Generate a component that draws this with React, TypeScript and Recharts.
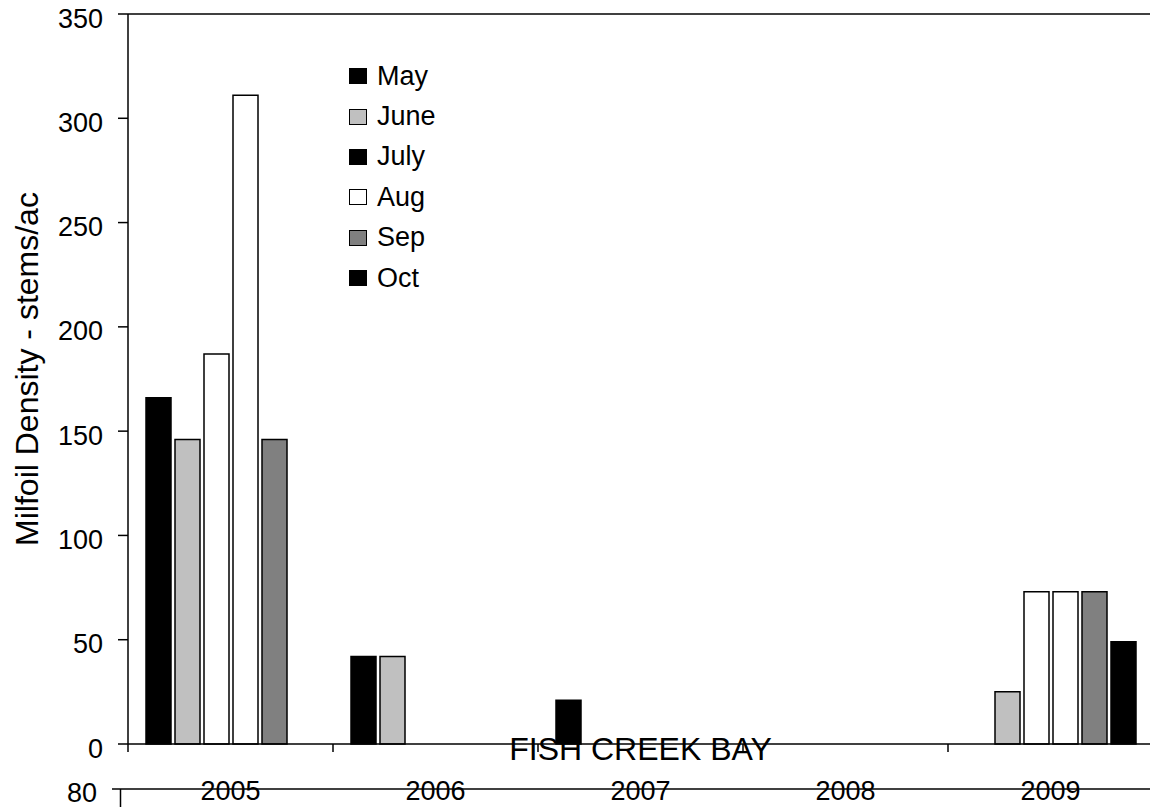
import { Bar, BarChart, Label, Legend, ReferenceLine, XAxis, YAxis } from 'recharts';

const years = ['2005', '2006', '2007', '2008', '2009'];
const may = [166, 42, 21, 0, 0];
const june = [146, 42, 0, 0, 25];
const july = [187, 0, 0, 0, 73];
const aug = [311, 0, 0, 0, 73];
const sep = [146, 0, 0, 0, 73];
const oct = [0, 0, 0, 0, 49];
const yTicks = [0, 50, 100, 150, 200, 250, 300, 350];

const FONT = "'Liberation Sans', Arial, sans-serif";

// fill = how the bar is drawn, swatch = how the legend shows it
const series = [
  { key: 'May', fill: '#000000', swatch: '#000000' },
  { key: 'June', fill: '#c0c0c0', swatch: '#c0c0c0' },
  { key: 'July', fill: '#ffffff', swatch: '#000000' },
  { key: 'Aug', fill: '#ffffff', swatch: '#ffffff' },
  { key: 'Sep', fill: '#808080', swatch: '#808080' },
  { key: 'Oct', fill: '#000000', swatch: '#000000' },
];

const data = years.map((year, i) => ({
  year,
  May: may[i],
  June: june[i],
  July: july[i],
  Aug: aug[i],
  Sep: sep[i],
  Oct: oct[i],
}));

const YTick = (props: any) => {
  const { x, y, payload } = props;
  return (
    <text x={x} y={y} dy={13.5} textAnchor="end" fontSize={27} fontFamily={FONT} fill="#000">
      {payload.value}
    </text>
  );
};

const XTick = (props: any) => {
  const { x, y, payload, index } = props;
  const half = payload.offset || 102.5;
  return (
    <g>
      <line x1={x - half} x2={x - half} y1={y} y2={y + 8} stroke="#000" strokeWidth={1.5} />
      {index === years.length - 1 && (
        <line x1={x + half} x2={x + half} y1={y} y2={y + 8} stroke="#000" strokeWidth={1.5} />
      )}
      <text x={x} y={y + 56} textAnchor="middle" fontSize={27} fontFamily={FONT} fill="#000">
        {payload.value}
      </text>
    </g>
  );
};

const LegendBox = () => (
  <div style={{ fontFamily: FONT, fontSize: 27, color: '#000' }}>
    {series.map((s) => (
      <div key={s.key} style={{ display: 'flex', alignItems: 'center', height: 40.4 }}>
        <span
          style={{
            width: 18,
            height: 16,
            boxSizing: 'border-box',
            background: s.swatch,
            border: '1.5px solid #000',
            marginRight: 10,
          }}
        />
        <span style={{ lineHeight: 1 }}>{s.key}</span>
      </div>
    ))}
  </div>
);

export default function App() {
  return (
    <div style={{ position: 'fixed', left: 0, top: 0, width: 1150, height: 807, overflow: 'hidden', background: '#fff' }}>
      <BarChart
        width={1153}
        height={807}
        data={data}
        margin={{ top: 14, right: 0, left: 8, bottom: 3 }}
        barSize={25}
        barGap={4}
      >
        <XAxis
          dataKey="year"
          height={60}
          tickSize={0}
          tickMargin={0}
          tickLine={false}
          axisLine={{ stroke: '#000', strokeWidth: 1.5 }}
          tick={<XTick />}
          interval={0}
        >
          <Label
            content={(p: any) => {
              const vb = p.viewBox || { x: 128, y: 744, width: 1025 };
              return (
                <text
                  x={vb.x + vb.width / 2}
                  y={vb.y + 16}
                  textAnchor="middle"
                  fontSize={32}
                  fontFamily={FONT}
                  fill="#000"
                >
                  FISH CREEK BAY
                </text>
              );
            }}
          />
        </XAxis>
        <YAxis
          width={120}
          domain={[0, 350]}
          ticks={yTicks}
          interval={0}
          tickSize={10}
          tickMargin={15}
          axisLine={{ stroke: '#000', strokeWidth: 1.5 }}
          tickLine={{ stroke: '#000', strokeWidth: 1.5 }}
          tick={<YTick />}
        >
          <Label
            content={(p: any) => {
              const vb = p.viewBox || { x: 8, y: 14, height: 730 };
              const cx = vb.x + 30;
              const cy = vb.y + vb.height / 2 - 10;
              return (
                <text
                  x={cx}
                  y={cy}
                  transform={`rotate(-90, ${cx}, ${cy})`}
                  textAnchor="middle"
                  fontSize={32}
                  fontFamily={FONT}
                  fill="#000"
                >
                  Milfoil Density - stems/ac
                </text>
              );
            }}
          />
        </YAxis>
        <ReferenceLine y={350} stroke="#000" strokeWidth={1.5} />
        <Legend
          layout="vertical"
          align="center"
          verticalAlign="middle"
          content={<LegendBox />}
          wrapperStyle={{ left: 349, top: 56, width: 'auto', height: 'auto' }}
        />
        {series.map((s) => (
          <Bar
            key={s.key}
            dataKey={s.key}
            fill={s.fill}
            stroke="#000"
            strokeWidth={1.5}
            isAnimationActive={false}
          />
        ))}
      </BarChart>
      <svg
        width={1150}
        height={807}
        style={{ position: 'absolute', left: 0, top: 0, pointerEvents: 'none' }}
      >
        <line x1={112} x2={1150} y1={789} y2={789} stroke="#000" strokeWidth={1.5} />
        <line x1={120.5} x2={120.5} y1={789} y2={807} stroke="#000" strokeWidth={1.5} />
        <text x={97} y={802} textAnchor="end" fontSize={27} fontFamily={FONT} fill="#000">
          80
        </text>
      </svg>
    </div>
  );
}
